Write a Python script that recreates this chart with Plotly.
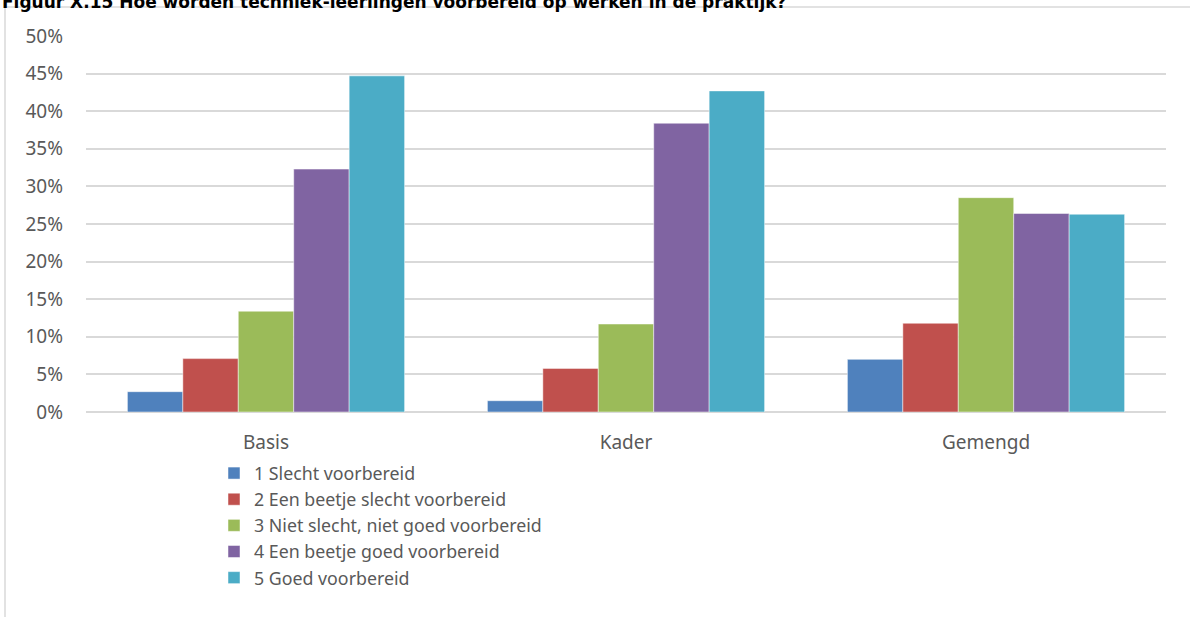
import plotly.graph_objects as go

categories = ["Basis", "Kader", "Gemengd"]
series_names = [
    "1 Slecht voorbereid",
    "2 Een beetje slecht voorbereid",
    "3 Niet slecht, niet goed voorbereid",
    "4 Een beetje goed voorbereid",
    "5 Goed voorbereid",
]
s1 = [2.7, 1.5, 7.0]
s2 = [7.1, 5.8, 11.8]
s3 = [13.4, 11.7, 28.5]
s4 = [32.3, 38.4, 26.4]
s5 = [44.7, 42.7, 26.3]
series_values = [s1, s2, s3, s4, s5]
colors = ["#4F81BD", "#C0504D", "#9BBB59", "#8064A2", "#4BACC6"]
tick_vals = [0, 5, 10, 15, 20, 25, 30, 35, 40, 45, 50]
tick_text = [f"{v}%" for v in tick_vals]
title_text = "Figuur X.15 Hoe worden techniek-leerlingen voorbereid op werken in de praktijk?"

W, H = 1190, 617
L, R, T, B = 86, 24, 36, 205
pw, ph = W - L - R, H - T - B

def px(x):
    return (x - L) / pw

def py(y):
    return (H - B - y) / ph

fig = go.Figure()
for name, vals, c in zip(series_names, series_values, colors):
    fig.add_trace(go.Bar(
        x=categories, y=vals, name=name,
        marker=dict(color=c, line=dict(color="rgba(255,255,255,0.6)", width=0.8)),
    ))

fig.update_layout(
    width=W, height=H,
    margin=dict(l=L, r=R, t=T, b=B, autoexpand=False),
    paper_bgcolor="white", plot_bgcolor="white",
    barmode="group", bargap=0.23, bargroupgap=0,
    font=dict(family="Noto Sans, sans-serif", size=19, color="#595959"),
    showlegend=True,
    legend=dict(
        x=px(214), y=py(455), xanchor="left", yanchor="top",
        orientation="v", font=dict(size=17.8, color="#595959"),
        tracegroupgap=0, itemwidth=30, bgcolor="rgba(0,0,0,0)",
    ),
    xaxis=dict(
        showgrid=False, showline=False, zeroline=False,
        ticks="", ticklabelstandoff=17,
    ),
    yaxis=dict(
        range=[0, 50], tickvals=tick_vals, ticktext=tick_text,
        showgrid=True, gridcolor="#D9D9D9", gridwidth=1.5,
        zeroline=True, zerolinecolor="#D9D9D9", zerolinewidth=1.5,
        showline=False, ticks="", ticklabelstandoff=22,
    ),
    shapes=[dict(
        type="rect", xref="paper", yref="paper",
        x0=px(5), x1=px(1200), y0=py(7), y1=py(640),
        line=dict(color="#D9D9D9", width=1.5), fillcolor="rgba(0,0,0,0)",
        layer="below",
    )],
    annotations=[dict(
        text="<b>" + title_text + "</b>", xref="paper", yref="paper",
        x=px(0), y=py(2), xanchor="left", yanchor="middle",
        showarrow=False,
        font=dict(family="DejaVu Sans, Verdana, sans-serif", size=17, color="black"),
    )],
)

fig.write_html(
    "out.html",
    config={"displayModeBar": False},
    post_script="document.body.style.margin='0';document.body.style.overflow='hidden';",
)
